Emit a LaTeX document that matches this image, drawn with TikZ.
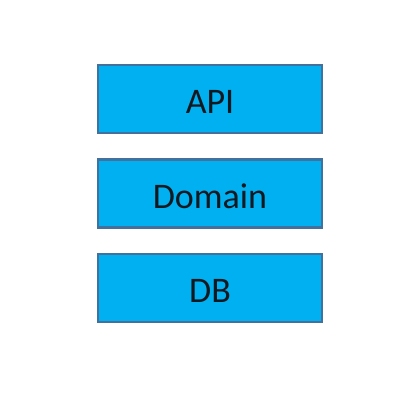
\documentclass[tikz,border=0pt]{standalone}
\usepackage{fontspec}
\setmainfont{Carlito}
\definecolor{boxfill}{HTML}{00B0F0}
\definecolor{boxline}{HTML}{41719C}
\definecolor{labelink}{HTML}{101820}
\begin{document}
\begin{tikzpicture}[x=1pt,y=-1pt,
  layer/.style={draw=boxline,line width=2.5pt,fill=boxfill,minimum width=224pt,minimum height=68pt,inner sep=0pt},
  lbl/.style={font=\fontsize{36}{40}\selectfont,inner sep=0pt,text=labelink}]
\useasboundingbox[fill=white] (0,0) rectangle (420,410);
\node[layer] (api) at (210,99) {};
\node[layer] (domain) at (210,193.5) {};
\node[layer] (db) at (210,288) {};
\foreach \n/\t in {api/API,domain/Domain,db/DB}{
  \node[lbl] (\n-text) at ([shift={(0,3)}]\n.center) {\t};
}
\end{tikzpicture}
\end{document}
